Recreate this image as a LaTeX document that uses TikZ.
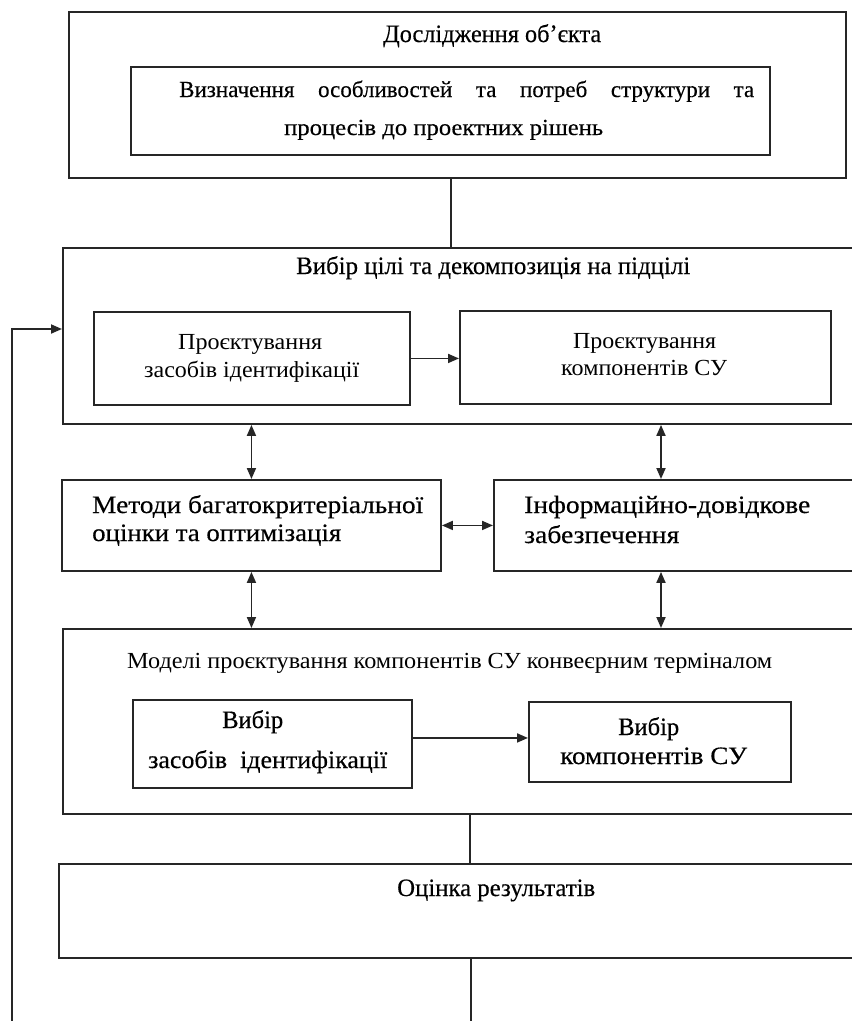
\documentclass[tikz,border=0pt]{standalone}
\usepackage{fontspec}
\usepackage{graphicx}
\setmainfont{Liberation Serif}
\newfontfamily\bmfont[FakeBold=0.35]{Liberation Serif}
\usetikzlibrary{arrows.meta,calc}
\newcommand\fitw[2]{\resizebox{#1pt}{\height}{#2}}
\tikzset{
  box/.style={draw=black!85,line width=1.9pt,anchor=north west,inner sep=0pt,fill=none},
  tx/.style={inner sep=0pt,anchor=base west,font=\fontsize{23}{26}\selectfont},
  txb/.style={inner sep=0pt,anchor=base west,font=\bmfont\fontsize{25}{28}\selectfont},
  txs/.style={inner sep=0pt,anchor=base west,font=\bmfont\fontsize{23}{26}\selectfont},
  ln/.style={draw=black!85,line width=1.8pt},
  arr/.style={ln,-{Triangle[length=11pt,width=9pt]}},
  dbl/.style={ln,{Triangle[length=11pt,width=9pt]}-{Triangle[length=11pt,width=9pt]}},
}
\begin{document}
\begin{tikzpicture}[x=1pt,y=-1pt]
\clip (0,0) rectangle (852,1021);
\fill[white] (0,0) rectangle (852,1021);
% boxes
\node[box,minimum width=777,minimum height=166] (top) at (68,11) {};
\node[box,minimum width=639,minimum height=88] (topin) at (130,66) {};
\node[box,minimum width=828,minimum height=176] (goal) at (62,247) {};
\node[box,minimum width=316,minimum height=93] (g1) at (93,311) {};
\node[box,minimum width=371,minimum height=93] (g2) at (459,310) {};
\node[box,minimum width=379,minimum height=91] (meth) at (61,479) {};
\node[box,minimum width=397,minimum height=91] (info) at (493,479) {};
\node[box,minimum width=828,minimum height=185] (model) at (62,628) {};
\node[box,minimum width=279,minimum height=88] (m1) at (132,699) {};
\node[box,minimum width=262,minimum height=80] (m2) at (528,701) {};
\node[box,minimum width=832,minimum height=94] (eval) at (58,863) {};
% texts
\node[txb] (t1) at (383,42) {\fitw{218}{Дослідження об’єкта}};
\node[txs] (t2) at (179,97) {\makebox[575pt][s]{Визначення особливостей та потреб структури та}};
\node[txs] (t3) at (284,135) {\fitw{319}{процесів до проектних рішень}};
\node[txb] (t4) at (296,274) {\fitw{394}{Вибір цілі та декомпозиція на підцілі}};
\node[tx] (t5) at (178,349) {\fitw{144}{Проєктування}};
\node[tx] (t6) at (144,377) {\fitw{215}{засобів ідентифікації}};
\node[tx] (t7) at (573,348) {\fitw{143}{Проєктування}};
\node[tx] (t8) at (561,375) {\fitw{166}{компонентів СУ}};
\node[txb] (t9) at (92,513) {\fitw{331}{Методи багатокритеріальної}};
\node[txb] (t10) at (92,541) {\fitw{249}{оцінки та оптимізація}};
\node[txb] (t11) at (524,513) {\fitw{286}{Інформаційно-довідкове}};
\node[txb] (t12) at (524,543) {\fitw{155}{забезпечення}};
\node[tx] (t13) at (127,668) {\fitw{645}{Моделі проєктування компонентів СУ конвеєрним терміналом}};
\node[txb] (t14) at (222,728) {\fitw{61}{Вибір}};
\node[txb] (t15) at (148,768) {\fitw{239}{засобів\ \ ідентифікації}};
\node[txb] (t16) at (618,735) {\fitw{61}{Вибір}};
\node[txb] (t17) at (560,764) {\fitw{187}{компонентів СУ}};
\node[txb] (t18) at (397,896) {\fitw{198}{Оцінка результатів}};
% connectors
\coordinate (rx) at (661,0);
\coordinate (fbs) at (12,1030);
\coordinate (fbt) at (12,329);
\coordinate (bend) at (471,1030);
\draw[ln] ([xshift=-6.5pt]top.south) -- ([xshift=-6.5pt]top.south |- goal.north);
\draw[arr] (g1.east) -- (g1.east -| g2.west);
\draw[dbl] (goal.south -| meth.north) -- (meth.north);
\draw[dbl] (goal.south -| rx) -- (info.north -| rx);
\draw[dbl] (meth.east) -- (info.west);
\draw[dbl] (meth.south) -- (meth.south |- model.north);
\draw[dbl] (info.south -| rx) -- (model.north -| rx);
\draw[arr] ([yshift=6pt]m1.east) -- ([yshift=6pt]m1.east -| m2.west);
\draw[ln] ([xshift=-7pt]model.south) -- ([xshift=-7pt]model.south |- eval.north);
\draw[ln] (eval.south -| bend) -- (bend);
\draw[arr] (fbs) -- (fbt) -- (fbt -| goal.west);
\end{tikzpicture}
\end{document}
